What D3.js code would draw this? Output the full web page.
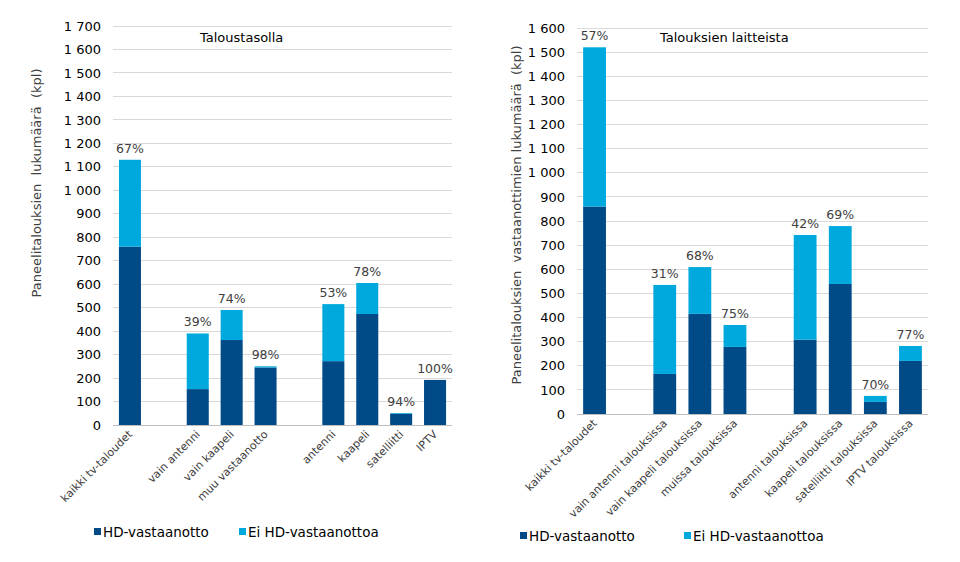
<!DOCTYPE html>
<html><head><meta charset="utf-8">
<script src="https://cdn.jsdelivr.net/npm/d3@7"></script>
<style>
html,body{margin:0;padding:0;background:#fff;}
svg{display:block;font-family:"DejaVu Sans",Verdana,sans-serif;}
</style></head>
<body><svg id="c" width="960" height="562"></svg>
<script>
// ---- data ----
const seriesNames = ["HD-vastaanotto", "Ei HD-vastaanottoa"];

const leftTitle = "Taloustasolla";
const leftYLabel = "Paneelitalouksien  lukumäärä  (kpl)";
const leftCategories = ["kaikki tv-taloudet", "", "vain antenni", "vain kaapeli", "muu vastaanotto", "", "antenni", "kaapeli", "satelliitti", "IPTV"];
const leftHD   = [760, null, 153, 362, 245, null, 272, 473, 48, 192];
const leftNoHD = [370, null, 237, 128, 5,   null, 243, 132, 3,  0];
const leftPct  = ["67%", "", "39%", "74%", "98%", "", "53%", "78%", "94%", "100%"];
const leftTicks = [0,100,200,300,400,500,600,700,800,900,1000,1100,1200,1300,1400,1500,1600,1700];

const rightTitle = "Talouksien laitteista";
const rightYLabel = "Paneelitalouksien  vastaanottimien lukumäärä  (kpl)";
const rightCategories = ["kaikki tv-taloudet", "", "vain antenni talouksissa", "vain kaapeli talouksissa", "muissa talouksissa", "", "antenni talouksissa", "kaapeli talouksissa", "satelliitti talouksissa", "IPTV talouksissa"];
const rightHD   = [860, null, 166, 415, 278, null, 308, 539, 50, 220];
const rightNoHD = [660, null, 369, 194, 91,  null, 434, 240, 25, 62];
const rightPct  = ["57%", "", "31%", "68%", "75%", "", "42%", "69%", "70%", "77%"];
const rightTicks = [0,100,200,300,400,500,600,700,800,900,1000,1100,1200,1300,1400,1500,1600];

const colors = ["#004a87", "#00a9dd"];
const fmt = v => d3.format(",")(v).replace(/,/g, " ");

const svg = d3.select("#c");

function drawChart(cfg) {
  const g = svg.append("g");
  const idx = cfg.categories.map((_, i) => i);
  const x = d3.scaleBand().domain(idx).range([cfg.x0, cfg.x1]).paddingInner(0.35).paddingOuter(0.175);
  const y = d3.scaleLinear().domain([0, cfg.max]).range([cfg.y0, cfg.y1]);

  // gridlines
  g.append("g").selectAll("line").data(cfg.ticks).join("line")
    .attr("x1", cfg.x0).attr("x2", cfg.x1)
    .attr("y1", d => y(d)).attr("y2", d => y(d))
    .attr("stroke", d => d === 0 ? "#bfbfbf" : "#d9d9d9").attr("stroke-width", 1)
    .attr("shape-rendering", "crispEdges");

  // y axis labels
  const ya = g.append("g").attr("transform", `translate(${cfg.x0 - 12},0)`)
    .call(d3.axisLeft(y).tickValues(cfg.ticks).tickFormat(fmt).tickSize(0).tickPadding(0));
  ya.select(".domain").remove();
  ya.selectAll("text").attr("font-size", 13).attr("fill", "#000")
    .attr("font-family", "DejaVu Sans, Verdana, sans-serif");

  // stacks
  const rows = idx.filter(i => cfg.hd[i] !== null).map(i => ({i, hd: cfg.hd[i], no: cfg.no[i]}));
  const stack = d3.stack().keys(["hd", "no"])(rows);
  stack.forEach((layer, k) => {
    g.append("g").attr("fill", colors[k]).selectAll("rect").data(layer).join("rect")
      .attr("x", d => x(d.data.i)).attr("width", x.bandwidth())
      .attr("y", d => y(d[1])).attr("height", d => y(d[0]) - y(d[1]));
  });

  // percent labels
  g.append("g").selectAll("text").data(rows).join("text")
    .attr("x", d => x(d.i) + x.bandwidth() / 2)
    .attr("y", d => y(d.hd + d.no) - 7)
    .attr("text-anchor", "middle").attr("font-size", 12.5).attr("fill", "#404040")
    .text(d => cfg.pct[d.i]);

  // x labels
  g.append("g").selectAll("text").data(idx.filter(i => cfg.categories[i] !== "")).join("text")
    .attr("transform", i => `translate(${x(i) + x.bandwidth() / 2 + 3},${cfg.y0 + 10}) rotate(-45)`)
    .attr("text-anchor", "end").attr("font-size", 11).attr("fill", "#404040")
    .text(i => cfg.categories[i]);

  // title
  g.append("text").attr("x", cfg.titleX).attr("y", cfg.titleY)
    .attr("font-size", 13).attr("fill", "#000").text(cfg.title);

  // y title
  g.append("text").attr("transform", `translate(${cfg.ylX},${cfg.ylY}) rotate(-90)`)
    .attr("text-anchor", "middle").attr("font-size", 13).attr("fill", "#404040")
    .attr("style", "white-space:pre").text(cfg.yLabel);

  // legend
  const lg = g.append("g");
  seriesNames.forEach((n, k) => {
    const lx = cfg.legX[k];
    lg.append("rect").attr("x", lx).attr("y", cfg.legY - 4).attr("width", 7).attr("height", 7).attr("fill", colors[k]);
    lg.append("text").attr("x", lx + 9).attr("y", cfg.legY + 5).attr("font-size", 13.5).attr("fill", "#000").text(n);
  });
}

drawChart({
  categories: leftCategories, hd: leftHD, no: leftNoHD, pct: leftPct, ticks: leftTicks, max: 1700,
  x0: 113, x1: 452, y0: 425, y1: 26,
  title: leftTitle, titleX: 200, titleY: 42,
  yLabel: leftYLabel, ylX: 41, ylY: 183,
  legX: [94, 239], legY: 532
});
drawChart({
  categories: rightCategories, hd: rightHD, no: rightNoHD, pct: rightPct, ticks: rightTicks, max: 1600,
  x0: 577, x1: 928, y0: 414, y1: 28,
  title: rightTitle, titleX: 660, titleY: 42,
  yLabel: rightYLabel, ylX: 521, ylY: 215,
  legX: [520, 684], legY: 536
});
</script></body></html>
